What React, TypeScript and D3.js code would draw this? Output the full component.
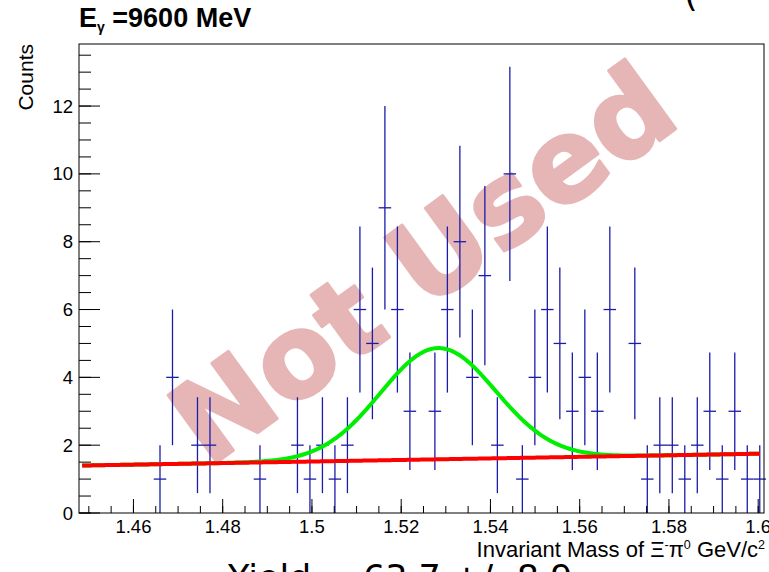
import React from "react";
import * as d3 from "d3";

// ---- data ----
const firstBinCenter = 1.46595; // GeV
const binWidth = 0.0028; // GeV
const counts = [
  1, 4, 0, 2, 2, 0, 0, 0, 1, 0, 0, 2, 1, 2, 1, 2, 6, 5, 9, 6, 3, 0, 3, 6, 8,
  4, 7, 2, 10, 1, 4, 6, 5, 3, 4, 3, 6, 0, 5, 1, 2, 2, 1, 2, 3, 1, 3, 1, 1,
];
const xMajorTicks = [1.46, 1.48, 1.5, 1.52, 1.54, 1.56, 1.58, 1.6];
const xTickLabels = ["1.46", "1.48", "1.5", "1.52", "1.54", "1.56", "1.58", "1.6"];
const yMajorTicks = [0, 2, 4, 6, 8, 10, 12];
const yTickLabels = ["0", "2", "4", "6", "8", "10", "12"];

// fit parameters: gaussian + linear background
const fitRange = [1.4485, 1.6004];
const gaussAmp = 3.28;
const gaussMean = 1.52826;
const gaussSigma = 0.0129;
const bgAt150 = 1.518;
const bgSlope = 2.3;

const W = 769;
const H = 572;
const FL = 79, FR = 764, FT = 44, FB = 513;

const bg = (x: number) => bgAt150 + bgSlope * (x - 1.5);
const total = (x: number) =>
  bg(x) + gaussAmp * Math.exp(-0.5 * ((x - gaussMean) / gaussSigma) ** 2);

export default function App() {
  const x = d3.scaleLinear().domain([1.4478, 1.6013]).range([FL, FR]);
  const y = d3.scaleLinear().domain([0, 13.83]).range([FB, FT]);

  const xs = d3.range(0, 401).map((i) => fitRange[0] + ((fitRange[1] - fitRange[0]) * i) / 400);
  const greenPath = d3.line<number>().x((d) => x(d)).y((d) => y(total(d)))(xs) || "";
  const redPath = d3.line<number>().x((d) => x(d)).y((d) => y(bg(d)))(xs) || "";

  const xMinor = d3.range(1.45, 1.6013, 0.005);
  const yMinor = d3.range(0, 13.83, 0.5);

  const font = "'Liberation Sans', Arial, Helvetica, sans-serif";

  return (
    <svg
      width={W}
      height={H}
      style={{ position: "absolute", left: 0, top: 0, background: "#fff" }}
      fontFamily={font}
    >
      <rect x={0} y={0} width={W} height={H} fill="#fff" />

      {/* watermark */}
      <text
        transform="translate(446,296) rotate(-36)"
        textAnchor="middle"
        fontSize={114}
        fontWeight="bold"
        fill="#e6b6b6"
        stroke="#e6b6b6"
        strokeWidth={3}
        strokeLinejoin="round"
        fontFamily="'DejaVu Sans', sans-serif"
      >
        Not Used
      </text>

      {/* error bars */}
      <g stroke="#1c1cab" strokeWidth={1.3}>
        {counts.map((n, i) => {
          if (n === 0) return null;
          const c = firstBinCenter + i * binWidth;
          const e = Math.sqrt(n);
          return (
            <g key={i}>
              <line x1={x(c)} x2={x(c)} y1={y(n - e)} y2={Math.max(FT, y(n + e))} />
              <line x1={x(c - binWidth / 2)} x2={x(c + binWidth / 2)} y1={y(n)} y2={y(n)} />
            </g>
          );
        })}
      </g>

      {/* fits */}
      <path d={greenPath} fill="none" stroke="#00ee00" strokeWidth={4} />
      <path d={redPath} fill="none" stroke="#ff0000" strokeWidth={4} />

      {/* frame */}
      <rect x={FL} y={FT} width={FR - FL} height={FB - FT} fill="none" stroke="#000" strokeWidth={1} />

      {/* ticks */}
      <g stroke="#000" strokeWidth={1}>
        {xMinor.map((v, i) => (
          <line key={"xm" + i} x1={x(v)} x2={x(v)} y1={FB} y2={FB - 7} />
        ))}
        {xMajorTicks.map((v, i) => (
          <line key={"xM" + i} x1={x(v)} x2={x(v)} y1={FB} y2={FB - 14} />
        ))}
        {yMinor.map((v, i) => (
          <line key={"ym" + i} x1={FL} x2={FL + 12} y1={y(v)} y2={y(v)} />
        ))}
        {yMajorTicks.map((v, i) => (
          <line key={"yM" + i} x1={FL} x2={FL + 21} y1={y(v)} y2={y(v)} />
        ))}
      </g>
      <g fontSize={18.5} fill="#000" textAnchor="middle">
        {xMajorTicks.map((v, i) => (
          <text key={i} x={x(v)} y={533}>
            {xTickLabels[i]}
          </text>
        ))}
      </g>
      <g fontSize={18.5} fill="#000" textAnchor="end">
        {yMajorTicks.map((v, i) => (
          <text key={i} x={73} y={y(v) + 6.5}>
            {yTickLabels[i]}
          </text>
        ))}
      </g>

      {/* axis titles */}
      <text x={765} y={557} textAnchor="end" fontSize={22} fill="#000">
        Invariant Mass of Ξ
        <tspan dy={-8} fontSize={12.5}>-</tspan>
        <tspan dy={8}>π</tspan>
        <tspan dy={-8} fontSize={12.5}>0</tspan>
        <tspan dy={8}> GeV/c</tspan>
        <tspan dy={-8} fontSize={12.5}>2</tspan>
      </text>
      <text transform="translate(33,44) rotate(-90)" textAnchor="end" fontSize={21} fill="#000">
        Counts
      </text>

      {/* title */}
      <text x={79} y={27} fontSize={27} fontWeight="bold" fill="#000">
        E<tspan dy={5} fontSize={14}>γ</tspan>
        <tspan dy={-5}> =9600 MeV</tspan>
      </text>

      {/* cut-off texts */}
      <text x={228} y={590} fontSize={35} fill="#000" fontFamily="'DejaVu Sans', sans-serif">
        Yield = 63.7 +/- 8.9
      </text>
      <text x={684} y={6} fontSize={35} fill="#000" fontFamily="'DejaVu Sans', sans-serif">
        (
      </text>
    </svg>
  );
}
